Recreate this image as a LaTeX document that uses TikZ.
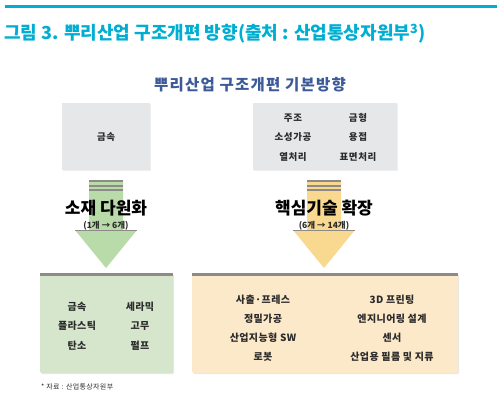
\documentclass[tikz,border=0pt]{standalone}
\usepackage{fontspec}
\setmainfont{Noto Sans CJK KR}
\usetikzlibrary{positioning, calc, shadows}
\definecolor{ttcyan}{HTML}{00AED2}
\definecolor{subblue}{HTML}{3D5A98}
\definecolor{boxgray}{HTML}{E6E7E8}
\definecolor{bargray}{HTML}{8E8A86}
\definecolor{arrgreen}{HTML}{B9DAA9}
\definecolor{boxgreen}{HTML}{D6E6CD}
\definecolor{arrgold}{HTML}{F9D98F}
\definecolor{boxgold}{HTML}{FCE9C9}
\definecolor{txtdark}{HTML}{2B2B2B}

\begin{document}
\begin{tikzpicture}[
  x=1pt, y=-1pt,
  srcbox/.style={rectangle, fill=boxgray, draw=none, anchor=north west, inner sep=0pt,
    drop shadow={opacity=0.12, shadow xshift=0.8pt, shadow yshift=-0.8pt}},
  resbox/.style={rectangle, rounded corners=1.5pt, draw=none, anchor=north west, inner sep=0pt,
    drop shadow={opacity=0.18, shadow xshift=1pt, shadow yshift=-1pt}},
  item/.style={font=\fontsize{10}{12}\selectfont\bfseries\addfontfeature{LetterSpace=4}, text=txtdark, inner sep=1pt},
  small/.style={font=\fontsize{9.5}{11}\selectfont\bfseries\addfontfeature{LetterSpace=6}, text=txtdark, inner sep=1pt},
  big/.style={font=\fontsize{17}{19}\selectfont\bfseries, text=black, inner sep=0pt},
  count/.style={font=\fontsize{8.5}{10}\selectfont\bfseries, text=txtdark, inner sep=0pt},
  stripe/.style={fill=bargray},
]

% Background
\fill[white] (0,0) rectangle (503,408);
\useasboundingbox (0,0) rectangle (503,408);

% Title
\fill[ttcyan] (5,4.5) rectangle (497,8);
\node[font=\fontsize{18}{20}\selectfont\bfseries, text=ttcyan, anchor=west, inner sep=0pt] (title) at (4,34)
  {그림 3. 뿌리산업 구조개편 방향(출처 : 산업통상자원부\textsuperscript{3})};
\node[font=\fontsize{15.5}{17}\selectfont\bfseries\addfontfeature{LetterSpace=8}, text=subblue] (sub) at (250,85)
  {뿌리산업 구조개편 기본방향};

% === Current state boxes ===
\node[srcbox, minimum width=88pt, minimum height=67pt] (gbL) at (62,103) {};
\node[small] (m1) at (gbL.center) {금속};

\node[srcbox, minimum width=144pt, minimum height=67pt] (gbR) at (253,103) {};
\node[small] (r1) at (293,118) {주조};
\node[small] (r2) at (358,118) {금형};
\node[small] (r3) at (293,137) {소성가공};
\node[small] (r4) at (358,137) {용접};
\node[small] (r5) at (293,157) {열처리};
\node[small] (r6) at (358,157) {표면처리};

% === Arrows ===
\foreach \cx/\col/\nm in {106/arrgreen/aL, 324/arrgold/aR} {
  \fill[\col] (\cx-17,180) -- (\cx+17,180) -- (\cx+17,230) -- (\cx+31,230)
    -- (\cx,268) -- (\cx-31,230) -- (\cx-17,230) -- cycle;
  \fill[stripe] (\cx-17,180) rectangle (\cx+17,182);
  \fill[stripe] (\cx-17,184.5) rectangle (\cx+17,186.5);
  \fill[stripe] (\cx-17,189) rectangle (\cx+17,190.5);
  \fill[stripe] (\cx-31,229.5) rectangle (\cx+31,231);
  \coordinate (\nm) at (\cx,208);
}
\node[big] (lblL) at (aL) {소재 다원화};
\node[count, below=5pt of lblL] (cntL) {(1개 → 6개)};
\node[big] (lblR) at (aR) {핵심기술 확장};
\node[count, below=5pt of lblR] (cntR) {(6개 → 14개)};

% === Result boxes ===
\node[resbox, fill=boxgreen, minimum width=133pt, minimum height=100pt] (bxL) at (40,273) {};
\fill[bargray] (bxL.north west) rectangle ($(bxL.north east)+(0,3)$);
\node[item] (g1) at (77,307) {금속};
\node[item] (g2) at (140,307) {세라믹};
\node[item] (g3) at (77,326) {플라스틱};
\node[item] (g4) at (140,326) {고무};
\node[item] (g5) at (77,346) {탄소};
\node[item] (g6) at (140,346) {펄프};

\node[resbox, fill=boxgold, minimum width=266pt, minimum height=100pt] (bxR) at (192,273) {};
\fill[bargray] (bxR.north west) rectangle ($(bxR.north east)+(0,3)$);
\node[item] (o1) at (263,300) {사출·프레스};
\node[item] (o2) at (392,300) {3D 프린팅};
\node[item] (o3) at (263,319) {정밀가공};
\node[item] (o4) at (392,319) {엔지니어링 설계};
\node[item] (o5) at (263,338) {산업지능형 SW};
\node[item] (o6) at (392,338) {센서};
\node[item] (o7) at (263,357) {로봇};
\node[item] (o8) at (392,357) {산업용 필름 및 지류};

% Source note
\node[font=\fontsize{7}{8}\selectfont\addfontfeature{LetterSpace=5}, text=txtdark, anchor=west, inner sep=0pt] (src) at (41,387)
  {* 자료 : 산업통상자원부};

\end{tikzpicture}
\end{document}
